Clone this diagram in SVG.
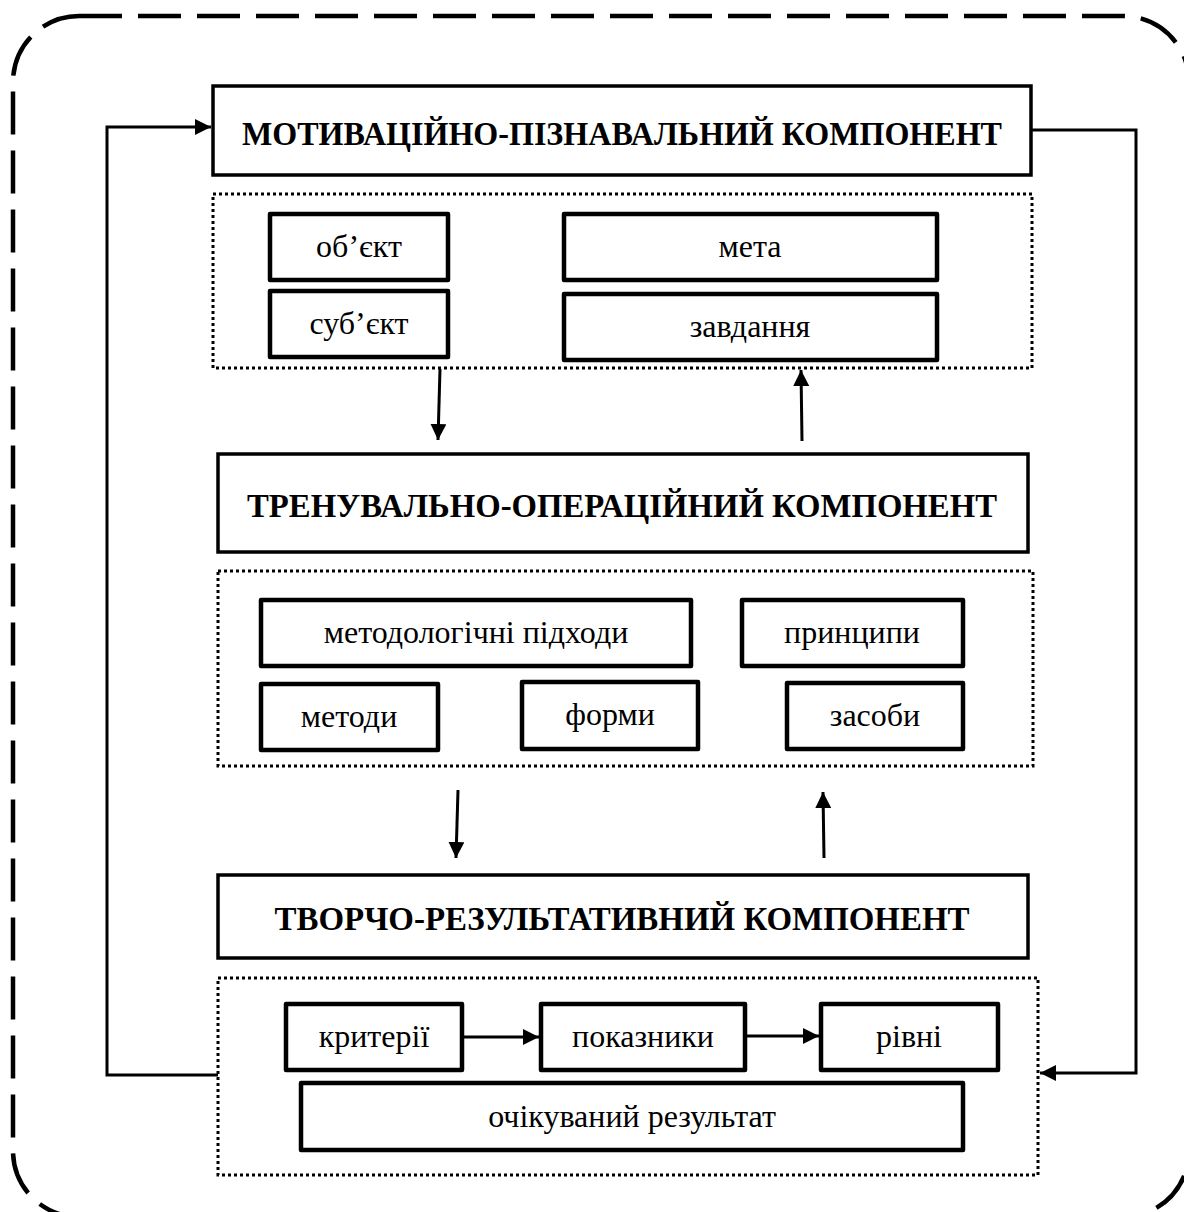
<svg xmlns="http://www.w3.org/2000/svg" width="1184" height="1212" viewBox="0 0 1184 1212">
<style>
.frame{fill:none;stroke:#000;stroke-width:4.5;stroke-dasharray:43 16}
.main{fill:#fff;stroke:#000;stroke-width:3.5}
.group{fill:none;stroke:#000;stroke-width:3;stroke-dasharray:3 3}
.item{fill:#fff;stroke:#000;stroke-width:4.5;stroke-linejoin:round}
.title{font-family:"Liberation Serif","Times New Roman",serif;font-weight:bold;font-size:34px;text-anchor:middle}
.label{font-family:"Liberation Serif","Times New Roman",serif;font-size:32px;text-anchor:middle}
.conn{fill:none;stroke:#000;stroke-width:3}
</style>
<defs>
<marker id="arr" markerUnits="userSpaceOnUse" markerWidth="16" markerHeight="16" refX="16" refY="8" orient="auto">
<path d="M0,0 L16,8 L0,16 Z" fill="#000"/>
</marker>
</defs>
<rect width="1184" height="1212" fill="#fff"/>
<rect class="frame" x="13" y="16" width="1176" height="1201" rx="66" ry="66"/>

<g id="motivational">
<rect class="main" x="213" y="86" width="818" height="89"/>
<text class="title" x="622" y="145" textLength="760" lengthAdjust="spacingAndGlyphs">МОТИВАЦІЙНО-ПІЗНАВАЛЬНИЙ КОМПОНЕНТ</text>
</g>
<g id="group1"><rect class="group" x="213" y="194" width="819" height="174"/></g>
<g id="object"><rect class="item" x="270" y="214" width="178" height="66"/><text class="label" x="359" y="257">об’єкт</text></g>
<g id="subject"><rect class="item" x="270" y="291" width="178" height="66"/><text class="label" x="359" y="334">суб’єкт</text></g>
<g id="goal"><rect class="item" x="564" y="214" width="373" height="66"/><text class="label" x="750" y="257">мета</text></g>
<g id="tasks"><rect class="item" x="564" y="294" width="373" height="66"/><text class="label" x="750" y="337">завдання</text></g>

<g id="training">
<rect class="main" x="218" y="454" width="810" height="98"/>
<text class="title" x="622" y="517" textLength="750" lengthAdjust="spacingAndGlyphs">ТРЕНУВАЛЬНО-ОПЕРАЦІЙНИЙ КОМПОНЕНТ</text>
</g>
<g id="group2"><rect class="group" x="218" y="571" width="815" height="195"/></g>
<g id="approaches"><rect class="item" x="261" y="600" width="430" height="66"/><text class="label" x="476" y="643">методологічні підходи</text></g>
<g id="principles"><rect class="item" x="742" y="600" width="221" height="66"/><text class="label" x="852" y="643">принципи</text></g>
<g id="methods"><rect class="item" x="261" y="684" width="177" height="66"/><text class="label" x="349" y="727">методи</text></g>
<g id="forms"><rect class="item" x="522" y="682" width="176" height="67"/><text class="label" x="610" y="725">форми</text></g>
<g id="means"><rect class="item" x="787" y="683" width="176" height="66"/><text class="label" x="875" y="726">засоби</text></g>

<g id="creative">
<rect class="main" x="218" y="875" width="810" height="83"/>
<text class="title" x="622" y="930" textLength="695" lengthAdjust="spacingAndGlyphs">ТВОРЧО-РЕЗУЛЬТАТИВНИЙ КОМПОНЕНТ</text>
</g>
<g id="group3"><rect class="group" x="218" y="978" width="820" height="197"/></g>
<g id="criteria"><rect class="item" x="286" y="1004" width="176" height="66"/><text class="label" x="374" y="1047">критерії</text></g>
<g id="indicators"><rect class="item" x="541" y="1004" width="204" height="66"/><text class="label" x="643" y="1047">показники</text></g>
<g id="levels"><rect class="item" x="821" y="1004" width="177" height="66"/><text class="label" x="909" y="1047">рівні</text></g>
<g id="result"><rect class="item" x="301" y="1083" width="662" height="67"/><text class="label" x="632" y="1127">очікуваний результат</text></g>

<g id="connectors">
<polyline class="conn" points="218,1075 107,1075 107,127 211,127" marker-end="url(#arr)"/>
<polyline class="conn" points="1032,130 1136,130 1136,1073 1040,1073" marker-end="url(#arr)"/>
<line class="conn" x1="440" y1="369" x2="438" y2="440" marker-end="url(#arr)"/>
<line class="conn" x1="802" y1="441" x2="801" y2="370" marker-end="url(#arr)"/>
<line class="conn" x1="458" y1="790" x2="456" y2="858" marker-end="url(#arr)"/>
<line class="conn" x1="824" y1="858" x2="823" y2="792" marker-end="url(#arr)"/>
<line class="conn" x1="463" y1="1037" x2="539" y2="1037" marker-end="url(#arr)"/>
<line class="conn" x1="746" y1="1036" x2="819" y2="1036" marker-end="url(#arr)"/>
</g>
</svg>
